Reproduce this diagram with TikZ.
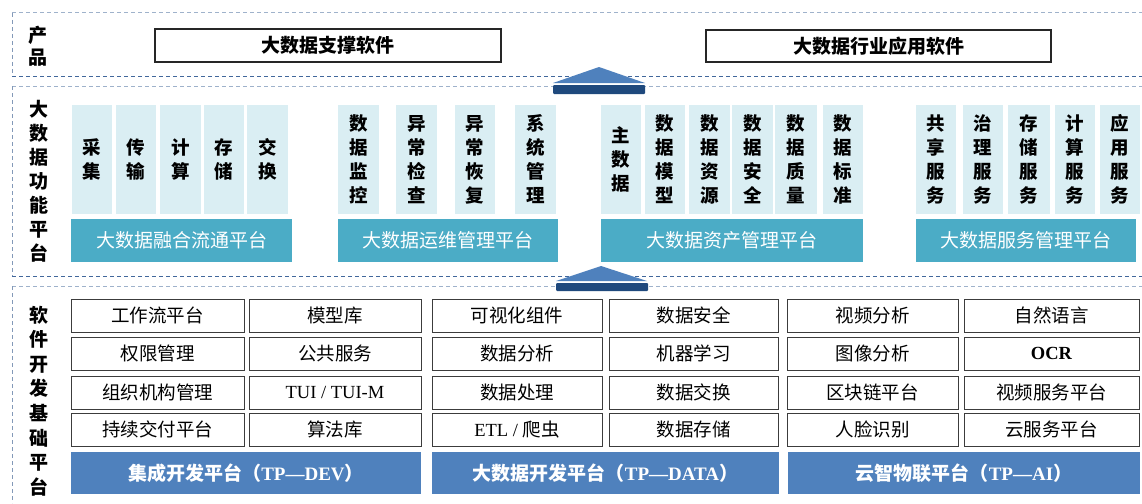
\documentclass[tikz,border=0pt]{standalone}
\usepackage{fontspec}
\setmainfont{Liberation Serif}
\newfontfamily\cjk{Noto Sans CJK SC}
\usetikzlibrary{shadows}
\definecolor{lightcell}{HTML}{DAEEF3}
\definecolor{tealbar}{HTML}{4BACC6}
\definecolor{bluebar}{HTML}{4F81BD}
\definecolor{darkbar}{HTML}{1F497D}
\definecolor{dashlight}{HTML}{9FB2CB}
\definecolor{dashdark}{HTML}{41679B}
\definecolor{dashleft}{HTML}{8399B8}
\definecolor{gridline}{HTML}{3C3C3C}
\newcommand\cell[7]{%
  \node[#6, minimum width={#4-#2}, minimum height={#5-#3}] (#1) at ({(#2+#4)/2},{(#3+#5)/2}) {#7};}
\begin{document}
\begin{tikzpicture}[x=1pt,y=-1pt,
  paneltop/.style={draw=dashlight, line width=1pt, dash pattern=on 4pt off 3pt},
  panelbot/.style={draw=dashdark, line width=1pt, dash pattern=on 4pt off 3pt},
  panelleft/.style={draw=dashleft, line width=1pt, dash pattern=on 4pt off 3pt},
  prodbox/.style={draw=black!85, line width=1.2pt, fill=white, inner sep=0pt,
     drop shadow={shadow xshift=1.2pt, shadow yshift=-1.2pt, fill=black!40, opacity=0.8},
     font=\cjk\bfseries\fontsize{19}{22}\selectfont},
  sidelabel/.style={align=center, inner sep=0pt, font=\cjk\bfseries\fontsize{19}{24}\selectfont},
  lbox/.style={fill=lightcell, inner sep=0pt, align=center, font=\cjk\bfseries\fontsize{18.5}{24}\selectfont},
  tbar/.style={fill=tealbar, inner sep=0pt, text=white, font=\cjk\fontsize{19}{22}\selectfont},
  bbar/.style={fill=bluebar, inner sep=0pt, text=white, font=\cjk\bfseries\fontsize{19}{22}\selectfont},
  gbox/.style={draw=gridline, line width=1pt, fill=white, inner sep=0pt,
     drop shadow={shadow xshift=0.8pt, shadow yshift=-0.8pt, fill=black!35, opacity=0.7},
     font=\cjk\fontsize{18.5}{22}\selectfont},
  uptri/.style={fill=bluebar},
  upbar/.style={fill=darkbar, rounded corners=1pt}
]
\useasboundingbox (0,0) rectangle (1142,503);
\fill[white] (0,0) rectangle (1142,503);

% ---------- panels ----------
\draw[paneltop] (12,13) -- (1142,13);
\draw[panelleft] (12,13) -- (12,76);
\draw[panelbot] (12,76) -- (1142,76);

\draw[paneltop] (12,86) -- (1142,86);
\draw[panelleft] (12,86) -- (12,276);
\draw[panelbot] (12,276) -- (1142,276);

\draw[paneltop] (12,286) -- (1142,286);
\draw[panelleft] (12,286) -- (12,503);

% ---------- product layer ----------
\node[sidelabel, font=\cjk\bfseries\fontsize{19}{22}\selectfont] (lab1) at (38,46) {产\\品};
\cell{p1}{155}{29}{501}{62}{prodbox}{大数据支撑软件}
\cell{p2}{706}{30}{1051}{62}{prodbox}{大数据行业应用软件}

% ---------- function layer ----------
\node[sidelabel] (lab2) at (39,181.5) {大\\数\\据\\功\\能\\平\\台};

\cell{a1}{72}{105}{112}{214}{lbox}{采\\集}
\cell{a2}{115.5}{105}{155.5}{214}{lbox}{传\\输}
\cell{a3}{160}{105}{200.5}{214}{lbox}{计\\算}
\cell{a4}{203.5}{105}{243.5}{214}{lbox}{存\\储}
\cell{a5}{247}{105}{288}{214}{lbox}{交\\换}
\cell{ta}{71}{219}{292}{262}{tbar}{大数据融合流通平台}

\cell{b1}{338}{105}{379}{214}{lbox}{数\\据\\监\\控}
\cell{b2}{396}{105}{437}{214}{lbox}{异\\常\\检\\查}
\cell{b3}{455}{105}{495}{214}{lbox}{异\\常\\恢\\复}
\cell{b4}{515}{105}{556}{214}{lbox}{系\\统\\管\\理}
\cell{tb}{338}{219}{558}{262}{tbar}{大数据运维管理平台}

\cell{c1}{601}{105}{641}{214}{lbox}{主\\数\\据}
\cell{c2}{644.5}{105}{684.5}{214}{lbox}{数\\据\\模\\型}
\cell{c3}{689}{105}{730}{214}{lbox}{数\\据\\资\\源}
\cell{c4}{732}{105}{772.5}{214}{lbox}{数\\据\\安\\全}
\cell{c5}{775}{105}{816.5}{214}{lbox}{数\\据\\质\\量}
\cell{c6}{822.5}{105}{863}{214}{lbox}{数\\据\\标\\准}
\cell{tc}{601}{219}{863}{262}{tbar}{大数据资产管理平台}

\cell{d1}{916}{105}{956}{214}{lbox}{共\\享\\服\\务}
\cell{d2}{963}{105}{1003}{214}{lbox}{治\\理\\服\\务}
\cell{d3}{1008}{105}{1049.5}{214}{lbox}{存\\储\\服\\务}
\cell{d4}{1055}{105}{1095}{214}{lbox}{计\\算\\服\\务}
\cell{d5}{1100}{105}{1140}{214}{lbox}{应\\用\\服\\务}
\cell{td}{916}{219}{1136}{262}{tbar}{大数据服务管理平台}

% ---------- base layer ----------
\node[sidelabel, font=\cjk\bfseries\fontsize{19}{24.6}\selectfont] (lab3) at (39,401) {软\\件\\开\\发\\基\\础\\平\\台};

\cell{g11}{71}{299}{244}{332}{gbox}{工作流平台}
\cell{g12}{71}{337}{244}{370}{gbox}{权限管理}
\cell{g13}{71}{376}{244}{409}{gbox}{组织机构管理}
\cell{g14}{71}{413}{244}{446}{gbox}{持续交付平台}

\cell{g21}{249}{299}{421}{332}{gbox}{模型库}
\cell{g22}{249}{337}{421}{370}{gbox}{公共服务}
\cell{g23}{249}{376}{421}{409}{gbox}{{\rmfamily TUI / TUI-M}}
\cell{g24}{249}{413}{421}{446}{gbox}{算法库}

\cell{g31}{432}{299}{602}{332}{gbox}{可视化组件}
\cell{g32}{432}{337}{602}{370}{gbox}{数据分析}
\cell{g33}{432}{376}{602}{409}{gbox}{数据处理}
\cell{g34}{432}{413}{602}{446}{gbox}{{\rmfamily ETL / }爬虫}

\cell{g41}{609}{299}{778}{332}{gbox}{数据安全}
\cell{g42}{609}{337}{778}{370}{gbox}{机器学习}
\cell{g43}{609}{376}{778}{409}{gbox}{数据交换}
\cell{g44}{609}{413}{778}{446}{gbox}{数据存储}

\cell{g51}{787}{299}{958}{332}{gbox}{视频分析}
\cell{g52}{787}{337}{958}{370}{gbox}{图像分析}
\cell{g53}{787}{376}{958}{409}{gbox}{区块链平台}
\cell{g54}{787}{413}{958}{446}{gbox}{人脸识别}

\cell{g61}{964}{299}{1139}{332}{gbox}{自然语言}
\cell{g62}{964}{337}{1139}{370}{gbox}{{\rmfamily\bfseries OCR}}
\cell{g63}{964}{376}{1139}{409}{gbox}{视频服务平台}
\cell{g64}{964}{413}{1139}{446}{gbox}{云服务平台}

\cell{e1}{71}{452}{421}{494}{bbar}{集成开发平台（{\rmfamily TP—DEV}）}
\cell{e2}{432}{452}{779}{494}{bbar}{大数据开发平台（{\rmfamily TP—DATA}）}
\cell{e3}{788}{452}{1140}{494}{bbar}{云智物联平台（{\rmfamily TP—AI}）}

% ---------- up arrows ----------
\coordinate (ar1l) at (553,83); \coordinate (ar1t) at (599,67); \coordinate (ar1r) at (645,83);
\fill[uptri] (ar1l) -- (ar1t) -- (ar1r) -- cycle;
\fill[upbar] (553,85) rectangle (645,94);

\coordinate (ar2l) at (556,281); \coordinate (ar2t) at (601,266); \coordinate (ar2r) at (647,281);
\fill[uptri] (ar2l) -- (ar2t) -- (ar2r) -- cycle;
\fill[upbar] (556,283) rectangle (648,291);
\end{tikzpicture}
\end{document}
